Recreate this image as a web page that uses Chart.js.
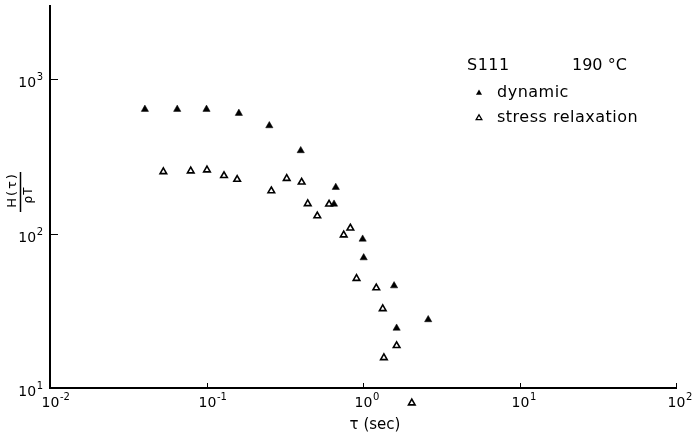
<!DOCTYPE html>
<html><head><meta charset="utf-8">
<script src="https://cdn.jsdelivr.net/npm/chart.js@4/dist/chart.umd.min.js"></script>
<style>html,body{margin:0;padding:0;background:#fff}</style>
</head><body>
<canvas id="c" width="693" height="435" style="width:693px;height:435px;display:block"></canvas>
<script>
// ---- data ----
const dynTau = [0.0404, 0.065, 0.100, 0.161, 0.252, 0.400, 0.670, 0.653, 0.995, 1.01, 1.58, 1.64, 2.61];
const dynH   = [637, 637, 637, 600, 499, 344, 199, 155, 92, 69.7, 45.9, 24.4, 27.7];
const relTau = [0.0530, 0.0793, 0.1007, 0.1294, 0.157, 0.2595, 0.3255, 0.4055, 0.4435, 0.5105, 0.607, 0.830, 0.753, 0.909, 1.216, 1.337, 1.64, 1.36, 2.05];
const relH   = [251, 254, 258, 237, 224, 189, 227, 215, 156, 130, 155, 108.5, 97.8, 51.2, 44.5, 32.6, 18.8, 15.7, 8.0];
const xTickValues = [0.01, 0.1, 1, 10, 100];
const xTickExps   = ['-2', '-1', '0', '1', '2'];
const yTickValues = [10, 100, 1000];
const yTickExps   = ['1', '2', '3'];
const seriesNames = ['dynamic', 'stress relaxation'];
const sampleName = 'S111';
const temperature = '190 °C';
const xTitle = 'τ (sec)';
const yTitleNum = 'H(τ)';
const yTitleDen = 'ρT';

const FONT = '"DejaVu Sans", sans-serif';

// draw points that fall outside the plot area (e.g. below the τ axis) as in the original
const outsidePoints = {
  id: 'outsidePoints',
  afterDatasetsDraw(chart) {
    const a = chart.chartArea;
    const big = { left: -1e4, top: -1e4, right: 1e4, bottom: 1e4 };
    chart.data.datasets.forEach((ds, di) => {
      chart.getDatasetMeta(di).data.forEach(el => {
        if (el.x < a.left || el.x > a.right || el.y < a.top || el.y > a.bottom) el.draw(chart.ctx, big);
      });
    });
  }
};

const decor = {
  id: 'decor',
  afterDraw(chart) {
    const ctx = chart.ctx, xs = chart.scales.x, ys = chart.scales.y;
    const a = chart.chartArea;
    ctx.save();
    ctx.fillStyle = '#000'; ctx.strokeStyle = '#000';
    ctx.lineWidth = 1;
    xTickValues.forEach((v, i) => {
      const px = Math.round(xs.getPixelForValue(v)) + 0.5;
      ctx.beginPath(); ctx.moveTo(px, a.bottom); ctx.lineTo(px, a.bottom - 5); ctx.stroke();
      ctx.font = '14px ' + FONT; ctx.textAlign = 'center'; ctx.textBaseline = 'alphabetic';
      const w = ctx.measureText('10').width;
      ctx.fillText('10', px, a.bottom + 19);
      ctx.font = '10px ' + FONT; ctx.textAlign = 'left';
      ctx.fillText(xTickExps[i].replace('-', '\u2011'), px + w / 2 + 0.5, a.bottom + 12);
    });
    yTickValues.forEach((v, i) => {
      const py = Math.round(ys.getPixelForValue(v)) + 0.5;
      ctx.beginPath(); ctx.moveTo(a.left, py); ctx.lineTo(a.left + 8, py); ctx.stroke();
      ctx.font = '10px ' + FONT; ctx.textAlign = 'right'; ctx.textBaseline = 'alphabetic';
      const sw = ctx.measureText(yTickExps[i]).width;
      ctx.fillText(yTickExps[i], 43, py);
      ctx.font = '14px ' + FONT;
      ctx.fillText('10', 43 - sw - 0.5, py + 7);
    });
    // x title
    ctx.font = '15px ' + FONT; ctx.textAlign = 'center'; ctx.textBaseline = 'middle';
    ctx.fillText(xTitle, 375, 425);
    // y title (rotated fraction)
    ctx.save();
    ctx.translate(20.5, 192);
    ctx.rotate(-Math.PI / 2);
    ctx.lineWidth = 1.5;
    ctx.beginPath(); ctx.moveTo(-20, 0); ctx.lineTo(20, 0); ctx.stroke();
    ctx.font = '13px ' + FONT; ctx.textAlign = 'center'; ctx.textBaseline = 'alphabetic';
    ctx.letterSpacing = '2px';
    ctx.fillText(yTitleNum, 2, -5);
    ctx.font = '12px ' + FONT; ctx.letterSpacing = '1px';
    ctx.textBaseline = 'top';
    ctx.fillText(yTitleDen, -3, 2);
    ctx.restore();
    // legend
    ctx.font = '16px ' + FONT; ctx.textAlign = 'left'; ctx.textBaseline = 'alphabetic';
    ctx.letterSpacing = '0.5px';
    ctx.fillText(sampleName, 467, 70);
    ctx.letterSpacing = '0px';
    ctx.fillText(temperature, 572, 70);
    ctx.letterSpacing = '0.5px';
    ctx.fillText(seriesNames[0], 497, 97);
    ctx.fillText(seriesNames[1], 497, 122);
    ctx.letterSpacing = '0px';
    const tri = (cx, cy, r, fill) => {
      ctx.beginPath();
      ctx.moveTo(cx, cy - r);
      ctx.lineTo(cx + r * 0.866, cy + r / 2);
      ctx.lineTo(cx - r * 0.866, cy + r / 2);
      ctx.closePath();
      if (fill) ctx.fill(); else { ctx.lineWidth = 1.3; ctx.stroke(); }
    };
    tri(479, 93, 3.5, true);
    tri(479, 118, 3.3, false);
    ctx.restore();
  }
};

new Chart(document.getElementById('c'), {
  type: 'scatter',
  data: {
    datasets: [
      {
        label: seriesNames[0],
        data: dynTau.map((t, i) => ({ x: t, y: dynH[i] })),
        pointStyle: 'triangle', pointRadius: 4.2, pointHoverRadius: 4.2,
        backgroundColor: '#000', borderColor: '#000', borderWidth: 0.5,
        clip: false
      },
      {
        label: seriesNames[1],
        data: relTau.map((t, i) => ({ x: t, y: relH[i] })),
        pointStyle: 'triangle', pointRadius: 3.8, pointHoverRadius: 3.8,
        backgroundColor: '#fff', borderColor: '#000', borderWidth: 1.6,
        clip: false
      }
    ]
  },
  options: {
    responsive: false, animation: false, devicePixelRatio: 1,
    layout: { padding: { left: 0, right: 17, top: 6, bottom: 0 } },
    plugins: { legend: { display: false }, tooltip: { enabled: false } },
    events: [],
    scales: {
      x: {
        type: 'logarithmic', min: 0.01, max: 100,
        afterFit(s) { s.height = 47; },
        afterBuildTicks(s) { s.ticks = xTickValues.map(v => ({ value: v })); },
        ticks: { display: false },
        grid: { display: false, drawTicks: false },
        border: { display: true, color: '#000', width: 2 }
      },
      y: {
        type: 'logarithmic', min: 10, max: 2970,
        afterFit(s) { s.width = 50; },
        afterBuildTicks(s) { s.ticks = yTickValues.map(v => ({ value: v })); },
        ticks: { display: false },
        grid: { display: false, drawTicks: false },
        border: { display: true, color: '#000', width: 2 }
      }
    }
  },
  plugins: [outsidePoints, decor]
});
</script>
</body></html>
